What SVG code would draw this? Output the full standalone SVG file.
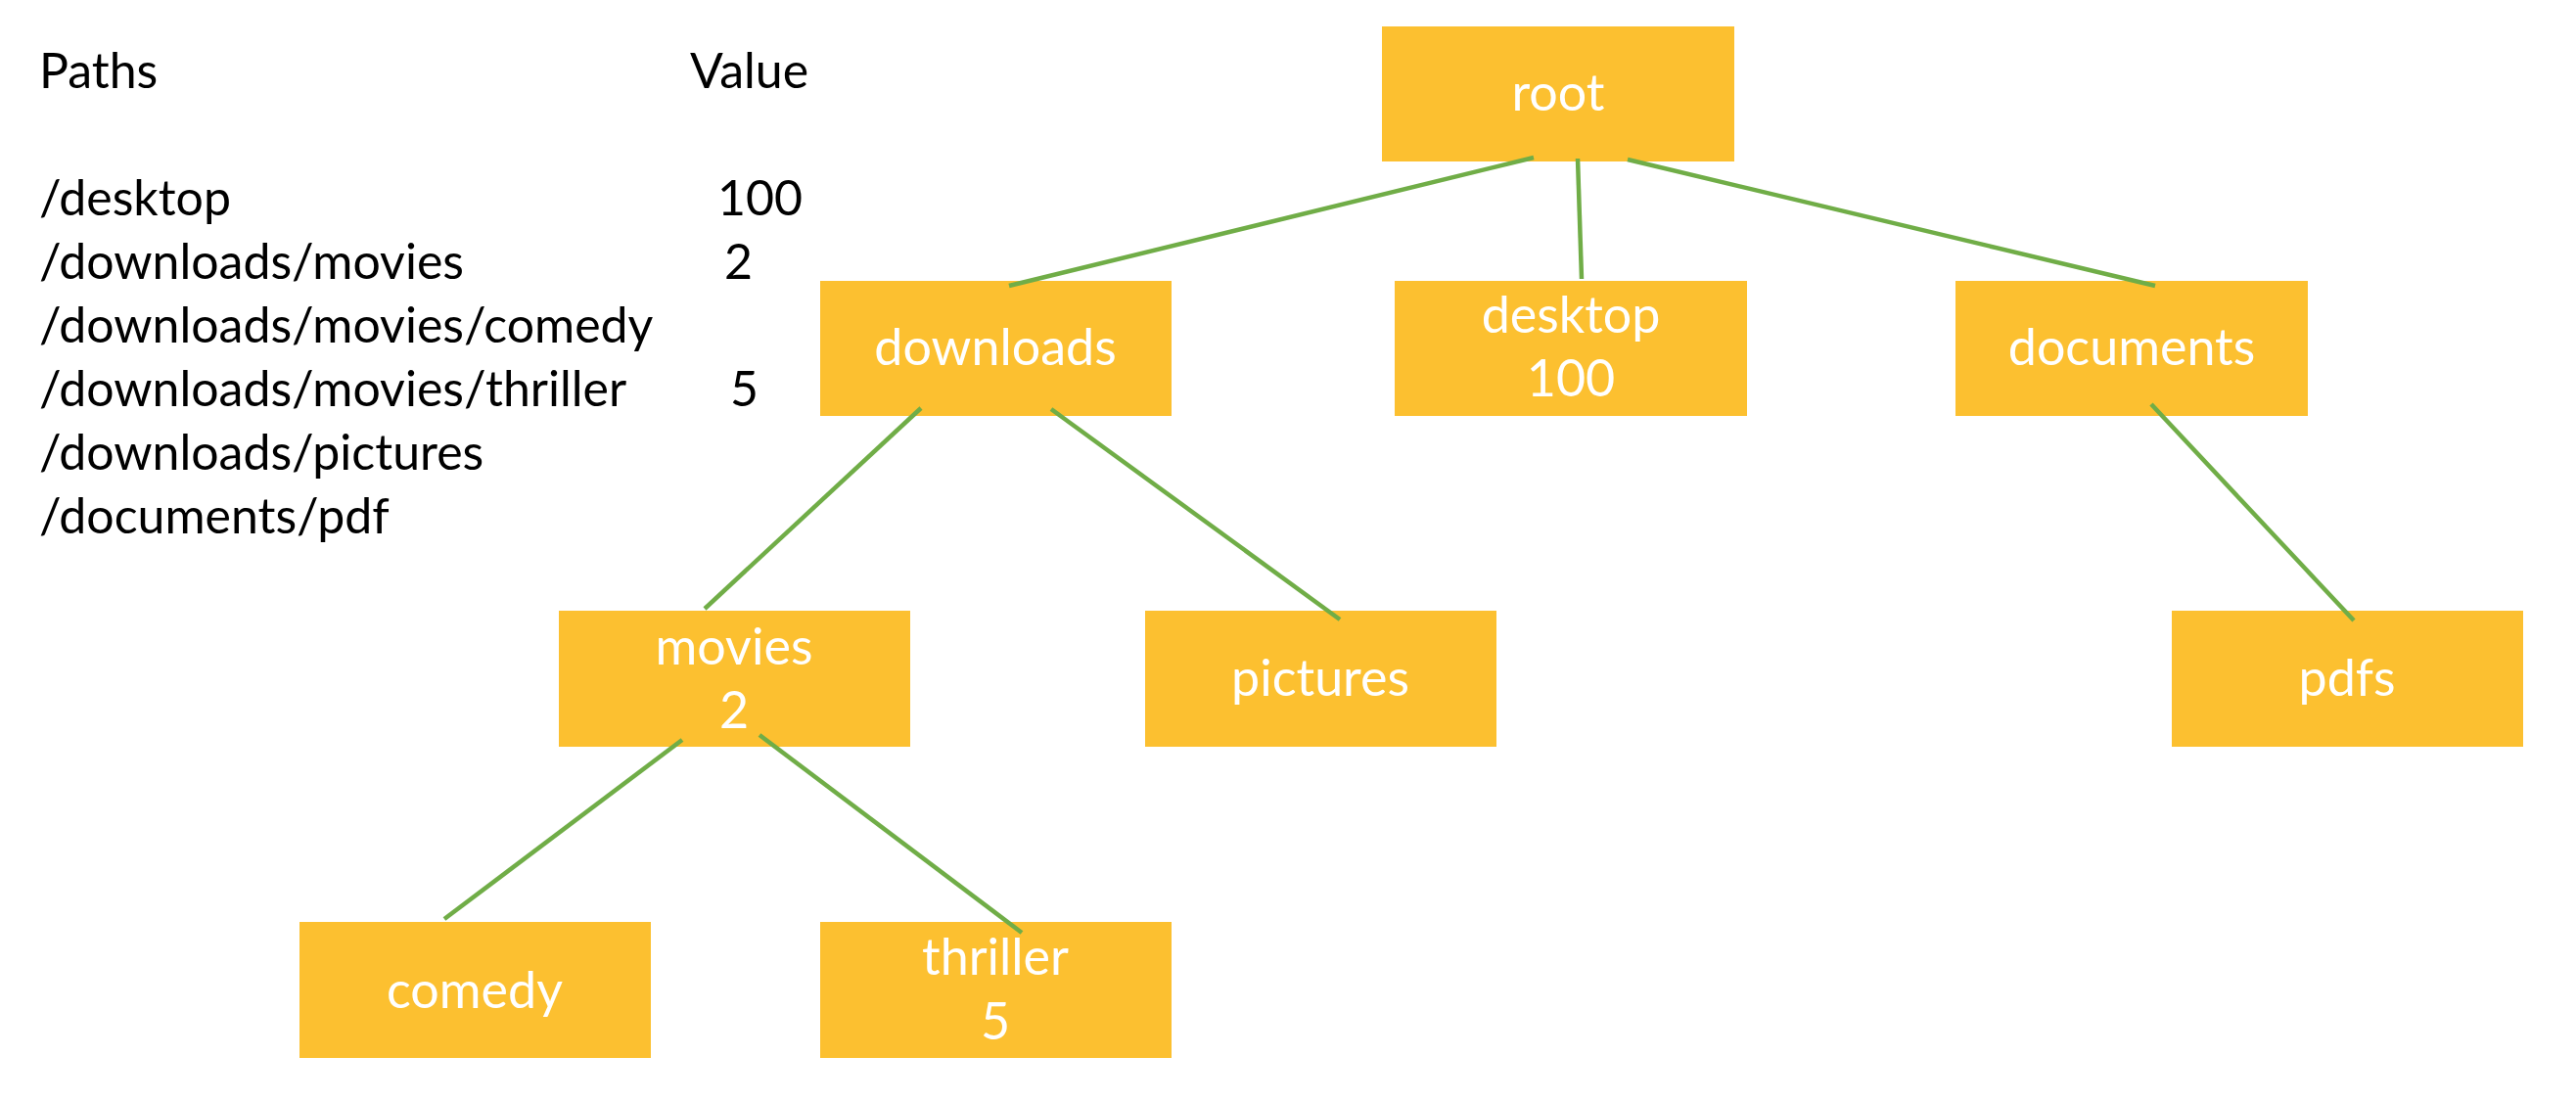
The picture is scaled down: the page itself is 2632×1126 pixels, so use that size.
<svg xmlns="http://www.w3.org/2000/svg" width="2632" height="1126" viewBox="0 0 2632 1126">
<style>
.bg{fill:#ffffff}
.box{fill:#FCC030}
.lbl{font-family:Lato,"Open Sans",sans-serif;font-size:52px;fill:#ffffff;text-anchor:middle}
.tbl{font-family:Lato,"Open Sans",sans-serif;font-size:50px;fill:#000000}
.edge{stroke:#70AD47;stroke-width:4.5;fill:none;stroke-linecap:butt}
</style>
<rect class="bg" x="0" y="0" width="2632" height="1126"/>
<g id="table">
<text class="tbl" x="40" y="90">Paths</text>
<text class="tbl" x="705" y="90">Value</text>
<text class="tbl" x="40" y="220">/desktop</text>
<text class="tbl" x="733" y="220">100</text>
<text class="tbl" x="40" y="285">/downloads/movies</text>
<text class="tbl" x="740" y="285">2</text>
<text class="tbl" x="40" y="350">/downloads/movies/comedy</text>
<text class="tbl" x="40" y="415">/downloads/movies/thriller</text>
<text class="tbl" x="746" y="415">5</text>
<text class="tbl" x="40" y="480">/downloads/pictures</text>
<text class="tbl" x="40" y="545">/documents/pdf</text>
</g>
<g id="root"><rect class="box" x="1412" y="27" width="360" height="138"/><text class="lbl" x="1592" y="113">root</text></g>
<g id="downloads"><rect class="box" x="838" y="287" width="359" height="138"/><text class="lbl" x="1017" y="373">downloads</text></g>
<g id="desktop"><rect class="box" x="1425" y="287" width="360" height="138"/><text class="lbl" x="1605" y="340">desktop</text><text class="lbl" x="1605" y="405">100</text></g>
<g id="documents"><rect class="box" x="1998" y="287" width="360" height="138"/><text class="lbl" x="2178" y="373">documents</text></g>
<g id="movies"><rect class="box" x="571" y="624" width="359" height="139"/><text class="lbl" x="750" y="679">movies</text><text class="lbl" x="750" y="744">2</text></g>
<g id="pictures"><rect class="box" x="1170" y="624" width="359" height="139"/><text class="lbl" x="1349" y="711">pictures</text></g>
<g id="pdfs"><rect class="box" x="2219" y="624" width="359" height="139"/><text class="lbl" x="2398" y="711">pdfs</text></g>
<g id="comedy"><rect class="box" x="306" y="942" width="359" height="139"/><text class="lbl" x="485" y="1030">comedy</text></g>
<g id="thriller"><rect class="box" x="838" y="942" width="359" height="139"/><text class="lbl" x="1017" y="996">thriller</text><text class="lbl" x="1017" y="1062">5</text></g>
<g id="connectors">
<line class="edge" x1="1567" y1="161" x2="1031" y2="292"/>
<line class="edge" x1="1612" y1="162" x2="1616" y2="285"/>
<line class="edge" x1="1663" y1="163" x2="2202" y2="292"/>
<line class="edge" x1="941" y1="417" x2="720" y2="622"/>
<line class="edge" x1="1074" y1="418" x2="1369" y2="633"/>
<line class="edge" x1="2198" y1="413" x2="2405" y2="634"/>
<line class="edge" x1="697" y1="756" x2="454" y2="939"/>
<line class="edge" x1="776" y1="751" x2="1044" y2="953"/>
</g>
</svg>
